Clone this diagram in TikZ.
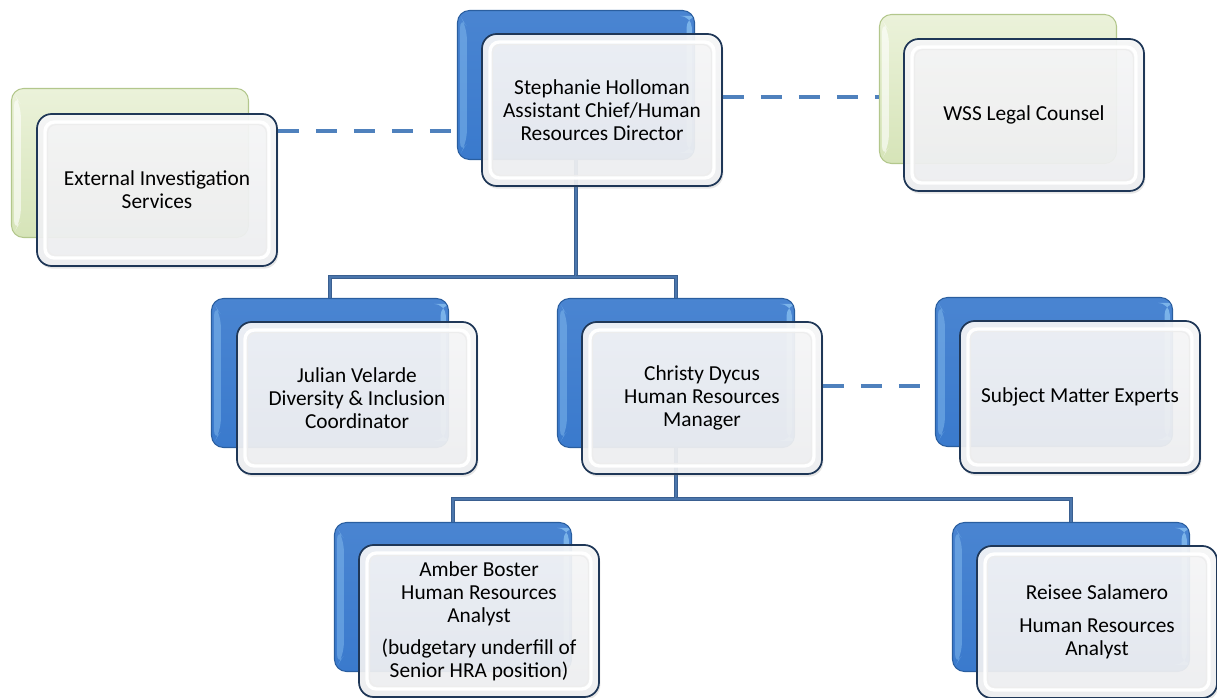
\documentclass[tikz,border=0pt]{standalone}
\usepackage{fontspec}
\setmainfont{Carlito}
\usepackage{xcolor}
\usetikzlibrary{shadows}
\definecolor{backblue}{HTML}{3A7ACD}
\definecolor{backbluedark}{HTML}{2A5E9F}
\definecolor{backbluelight}{HTML}{8CC3F2}
\definecolor{backgreen}{HTML}{D6E4B8}
\definecolor{backgreenlight}{HTML}{EBF2DA}
\definecolor{backgreendark}{HTML}{B3C78C}
\definecolor{frontfill}{HTML}{EEEFF1}
\definecolor{frontedge}{HTML}{1F3757}
\definecolor{lineblue}{HTML}{4B76AC}
\definecolor{linedark}{HTML}{3A5F90}
\definecolor{dashblue}{HTML}{4F81BD}

\tikzset{
  backbox/.style = {rectangle, rounded corners = 9pt, line width = 0.8pt,
    minimum width = 177.75pt, minimum height = 111.75pt, inner sep = 0pt},
  bluebox/.style = {backbox, draw = backbluedark, top color = backblue!92!white,
    bottom color = backblue,
    path picture = {
      \fill [backbluelight, opacity = 0.75] ([xshift = -6pt, yshift = -4pt]path picture bounding box.north east)
        rectangle ([xshift = -2pt, yshift = 5pt]path picture bounding box.south east);
      \fill [backbluelight, opacity = 0.45] ([shift = {(2pt, -4pt)}]path picture bounding box.north west)
        -- ([shift = {(7pt, -12pt)}]path picture bounding box.north west)
        -- ([shift = {(7pt, 12pt)}]path picture bounding box.south west)
        -- ([shift = {(2pt, 4pt)}]path picture bounding box.south west) -- cycle;
    }},
  greenbox/.style = {backbox, draw = backgreendark, top color = backgreenlight,
    bottom color = backgreen,
    path picture = {
      \fill [white, opacity = 0.6] ([shift = {(2pt, -4pt)}]path picture bounding box.north west)
        -- ([shift = {(7pt, -12pt)}]path picture bounding box.north west)
        -- ([shift = {(7pt, 12pt)}]path picture bounding box.south west)
        -- ([shift = {(2pt, 4pt)}]path picture bounding box.south west) -- cycle;
    }},
  frontbox/.style = {rectangle, rounded corners = 11pt, draw = frontedge, line width = 1.3pt,
    minimum width = 180pt, minimum height = 114pt, inner sep = 2pt, align = center,
    top color = frontfill!50!white, bottom color = frontfill, fill opacity = 0.93, text opacity = 1,
    text = black, font = \fontsize{16}{17.25}\selectfont,
    drop shadow = {opacity = 0.2, shadow xshift = 1pt, shadow yshift = -2pt},
    path picture = {
      \draw [white, line width = 2.5pt, rounded corners = 7pt]
        ([shift = {(6pt, -6pt)}]path picture bounding box.north west)
        rectangle ([shift = {(-6pt, 6pt)}]path picture bounding box.south east);
      \draw [black!7, line width = 0.8pt, rounded corners = 6pt]
        ([shift = {(8pt, -8pt)}]path picture bounding box.north west)
        rectangle ([shift = {(-8pt, 8pt)}]path picture bounding box.south east);
    }},
  orgline/.style = {draw = linedark, double = lineblue, double distance = 2pt,
    line width = 0.7pt, line join = miter},
  linkdash/.style = {draw = dashblue, line width = 3.6pt, dash pattern = on 16pt off 12.5pt}
}

\begin{document}
\begin{tikzpicture}[x = 0.75pt, y = -0.75pt]

        \useasboundingbox (0, 0) rectangle (1217, 698);

        % back plates
        \node [bluebox] (dirb) at (576, 85) {};
        \node [greenbox] (extb) at (130, 163) {};
        \node [greenbox] (wssb) at (998, 89) {};
        \node [bluebox] (jvb) at (330, 373) {};
        \node [bluebox] (cdb) at (676, 373) {};
        \node [bluebox] (smeb) at (1054, 372) {};
        \node [bluebox] (abb) at (453, 597) {};
        \node [bluebox] (rsb) at (1071, 597) {};

        % reporting lines
        \coordinate (topsplit) at (dirb.south |- 0, 277);
        \coordinate (lowsplit) at (cdb.south |- 0, 499);
        \draw [orgline] (dirb.south) -- (topsplit) -| (jvb.north);
        \draw [orgline] (topsplit) -| (cdb.north);
        \draw [orgline] (cdb.south) -- (lowsplit) -| (abb.north);
        \draw [orgline] (lowsplit) -| (rsb.north);

        % front cards
        \node [frontbox] (dir) at (602, 110) {Stephanie Holloman\\Assistant Chief/Human\\Resources Director};
        \node [frontbox] (ext) at (157, 190) {External Investigation\\Services};
        \node [frontbox] (wss) at (1024, 115) {WSS Legal Counsel};
        \node [frontbox] (jv) at (357, 398) {Julian Velarde\\Diversity \& Inclusion\\Coordinator};
        \node [frontbox] (cd) at (702, 398) {Christy Dycus\\Human Resources\\Manager};
        \node [frontbox] (sme) at (1080, 397) {Subject Matter Experts};
        \node [frontbox] (ab) at (479, 621) {Amber Boster\\Human Resources\\Analyst\\[6.5pt](budgetary underfill of\\Senior HRA position)};
        \node [frontbox] (rs) at (1097, 622) {Reisee Salamero\\[7.5pt]Human Resources\\Analyst};

        % dotted-line relations
        \draw [linkdash] (ext.east |- 0, 131) -- (dirb.west |- 0, 131);
        \draw [linkdash] (dir.east |- 0, 97) -- (wssb.west |- 0, 97);
        \draw [linkdash] (cd.east |- 0, 386) -- (smeb.west |- 0, 386);

\end{tikzpicture}
\end{document}
